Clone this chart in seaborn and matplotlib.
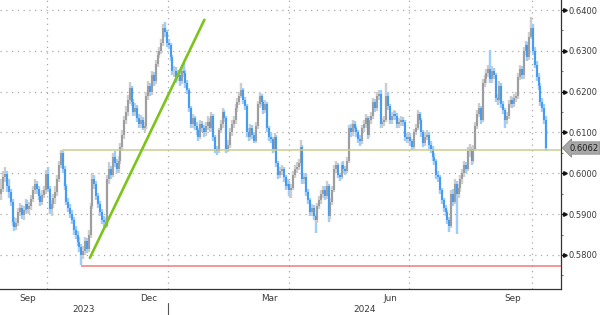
import numpy as np
import pandas as pd
import matplotlib
matplotlib.use("Agg")
import matplotlib.pyplot as plt
import seaborn as sns

# ---------------- data (NZD/USD style daily bars, in 1e-4 units) ----------------
start_date = "2023-08-28"
end_date = "2024-10-10"
first_open = 5950

closes = [
    5962, 5990, 5998, 5968,
    # Sep 2023
    5955, 5930, 5880, 5868, 5878, 5905, 5915, 5898, 5910, 5925, 5912, 5920, 5938, 5958, 5975, 5962, 5945, 5930, 5948, 5958, 5998,
    # Oct 2023
    5962, 5912, 5925, 5940, 5955, 5985, 6020, 6050, 6010, 5968, 5930, 5915, 5900, 5885, 5860, 5850, 5832, 5820, 5800, 5810, 5835, 5815,
    # Nov 2023
    5850, 5920, 5985, 5975, 5945, 5925, 5905, 5885, 5880, 5872, 5985, 6010, 5995, 6040, 6025, 6010, 6030, 6065, 6095, 6130, 6150, 6180,
    # Dec 2023
    6210, 6175, 6150, 6160, 6135, 6120, 6130, 6112, 6115, 6190, 6215, 6200, 6240, 6225, 6268, 6290, 6300, 6320, 6355, 6345, 6320,
    # Jan 2024
    6315, 6285, 6250, 6250, 6235, 6240, 6225, 6250, 6245, 6220, 6205, 6160, 6120, 6135, 6115, 6105, 6090, 6120, 6110, 6100, 6115, 6125, 6110,
    # Feb 2024
    6140, 6090, 6060, 6055, 6105, 6120, 6150, 6135, 6060, 6070, 6100, 6120, 6130, 6160, 6175, 6190, 6205, 6180, 6165, 6100, 6090,
    # Mar 2024
    6110, 6095, 6080, 6115, 6170, 6190, 6175, 6155, 6170, 6110, 6090, 6085, 6060, 6090, 6025, 5995, 6005, 6010, 5990, 5970, 5975,
    # Apr 2024
    5960, 5965, 5995, 6010, 6015, 6025, 6065, 5985, 5990, 5955, 5935, 5905, 5915, 5895, 5885, 5920, 5935, 5950, 5960, 5945, 5970, 5895,
    # May 2024
    5930, 5960, 6010, 6020, 5995, 5990, 6020, 6010, 6005, 6030, 6110, 6100, 6120, 6110, 6100, 6085, 6080, 6110, 6120, 6135, 6095, 6130, 6140,
    # Jun 2024
    6175, 6160, 6190, 6195, 6120, 6125, 6130, 6190, 6165, 6130, 6140, 6145, 6140, 6120, 6125, 6130, 6125, 6090, 6085, 6090,
    # Jul 2024
    6080, 6065, 6100, 6110, 6145, 6130, 6100, 6075, 6090, 6095, 6070, 6060, 6040, 6030, 5995, 5990, 5960, 5935, 5915, 5905, 5885, 5870, 5950,
    # Aug 2024
    5930, 5975, 5950, 5965, 5985, 6000, 6020, 6010, 6055, 6060, 6030, 6060, 6115, 6145, 6160, 6130, 6220, 6230, 6245, 6255, 6230, 6250,
    # Sep 2024
    6240, 6185, 6180, 6215, 6170, 6155, 6130, 6140, 6170, 6180, 6170, 6185, 6190, 6235, 6255, 6240, 6300, 6315, 6285, 6335, 6355,
    # Oct 2024
    6300, 6265, 6235, 6215, 6175, 6160, 6130, 6062,
]

highs = [
    5985, 6005, 6015, 6005,
    5985, 5962, 5938, 5892, 5890, 5915, 5928, 5922, 5920, 5938, 5935, 5930, 5948, 5968, 5985, 5982, 5968, 5952, 5958, 5970, 6008,
    6015, 5970, 5935, 5950, 5970, 5995, 6030, 6058, 6055, 6018, 5975, 5940, 5925, 5910, 5892, 5870, 5858, 5845, 5828, 5822, 5845, 5842,
    5860, 5928, 6000, 5995, 5980, 5952, 5932, 5912, 5895, 5890, 5995, 6028, 6018, 6050, 6055, 6035, 6042, 6075, 6105, 6140, 6165, 6192,
    6224, 6215, 6182, 6172, 6168, 6145, 6142, 6138, 6125, 6200, 6225, 6222, 6250, 6248, 6278, 6300, 6310, 6330, 6365, 6370, 6350,
    6328, 6320, 6290, 6262, 6260, 6252, 6248, 6262, 6270, 6252, 6228, 6210, 6165, 6145, 6140, 6125, 6112, 6130, 6128, 6118, 6125, 6140, 6135,
    6150, 6145, 6095, 6068, 6112, 6130, 6160, 6155, 6140, 6082, 6110, 6130, 6140, 6170, 6185, 6200, 6221, 6210, 6188, 6170, 6110,
    6120, 6118, 6102, 6125, 6178, 6199, 6195, 6180, 6180, 6175, 6115, 6100, 6090, 6098, 6095, 6030, 6015, 6020, 6015, 5995, 5985,
    5982, 5975, 6005, 6020, 6028, 6035, 6082, 6070, 6000, 5998, 5962, 5940, 5925, 5922, 5900, 5928, 5945, 5960, 5970, 5968, 5982, 5975,
    5940, 5970, 6020, 6030, 6025, 6002, 6028, 6030, 6018, 6040, 6118, 6122, 6130, 6128, 6115, 6105, 6095, 6118, 6130, 6145, 6140, 6140, 6150,
    6185, 6182, 6200, 6205, 6205, 6135, 6140, 6222, 6198, 6170, 6150, 6155, 6152, 6148, 6135, 6140, 6138, 6130, 6098, 6100,
    6098, 6085, 6108, 6120, 6155, 6150, 6135, 6105, 6100, 6105, 6100, 6078, 6068, 6050, 6035, 6005, 5995, 5965, 5940, 5922, 5910, 5892, 5958,
    5962, 5985, 5980, 5975, 5995, 6010, 6030, 6028, 6065, 6072, 6065, 6070, 6125, 6155, 6172, 6165, 6230, 6242, 6255, 6265, 6302, 6262,
    6258, 6245, 6195, 6225, 6222, 6178, 6160, 6150, 6180, 6190, 6188, 6195, 6200, 6245, 6265, 6262, 6310, 6325, 6322, 6345, 6383,
    6365, 6310, 6275, 6245, 6222, 6185, 6170, 6140,
]

lows = [
    5935, 5955, 5978, 5955,
    5940, 5920, 5870, 5858, 5860, 5870, 5895, 5888, 5885, 5900, 5902, 5900, 5910, 5930, 5950, 5950, 5935, 5920, 5922, 5940, 5950,
    5955, 5900, 5895, 5915, 5925, 5945, 5978, 6012, 6000, 5960, 5922, 5905, 5890, 5875, 5850, 5838, 5822, 5808, 5775, 5790, 5800, 5805,
    5808, 5842, 5912, 5962, 5935, 5915, 5895, 5875, 5868, 5865, 5868, 5975, 5985, 5990, 6015, 6000, 6002, 6022, 6055, 6085, 6120, 6140,
    6170, 6165, 6140, 6140, 6125, 6110, 6112, 6105, 6100, 6108, 6180, 6190, 6192, 6215, 6218, 6260, 6282, 6292, 6312, 6335, 6310,
    6305, 6275, 6240, 6235, 6222, 6225, 6215, 6218, 6235, 6210, 6195, 6150, 6110, 6110, 6105, 6095, 6080, 6085, 6100, 6090, 6092, 6105, 6100,
    6100, 6080, 6050, 6045, 6050, 6098, 6112, 6125, 6050, 6052, 6062, 6092, 6112, 6122, 6150, 6168, 6185, 6170, 6155, 6090, 6080,
    6082, 6085, 6075, 6075, 6108, 6160, 6165, 6145, 6148, 6100, 6080, 6075, 6050, 6052, 6015, 5985, 5988, 5995, 5978, 5958, 5962,
    5945, 5940, 5958, 5988, 6000, 6008, 6018, 5975, 5975, 5945, 5925, 5895, 5895, 5885, 5855, 5878, 5912, 5925, 5940, 5935, 5938, 5880,
    5888, 5922, 5955, 6000, 5988, 5980, 5985, 6000, 5995, 6000, 6025, 6090, 6092, 6100, 6090, 6075, 6068, 6072, 6102, 6112, 6085, 6088, 6122,
    6132, 6150, 6152, 6180, 6110, 6110, 6115, 6125, 6155, 6120, 6122, 6130, 6130, 6110, 6110, 6115, 6115, 6080, 6075, 6075,
    6068, 6057, 6060, 6095, 6105, 6120, 6090, 6065, 6068, 6082, 6060, 6050, 6030, 6020, 5985, 5978, 5950, 5925, 5905, 5895, 5875, 5856, 5865,
    5920, 5925, 5852, 5940, 5955, 5975, 5992, 6000, 6005, 6040, 6020, 6025, 6055, 6108, 6138, 6120, 6125, 6212, 6222, 6235, 6222, 6220,
    6230, 6175, 6168, 6172, 6160, 6145, 6111, 6120, 6132, 6162, 6160, 6162, 6175, 6182, 6228, 6230, 6232, 6290, 6275, 6278, 6330,
    6290, 6258, 6225, 6205, 6165, 6150, 6120, 6055,
]

last_price_label = "0.6062"
y_tick_labels = ["0.5800", "0.5900", "0.6000", "0.6100", "0.6200", "0.6300", "0.6400"]
month_labels = ["Sep", "Dec", "Mar", "Jun", "Sep"]
month_label_months = ["2023-09", "2023-12", "2024-03", "2024-06", "2024-09"]
year_labels = ["2023", "2024"]

# annotation levels / trend line
olive_level = 0.6057
olive_start = "2023-10-11"
red_level = 0.5774
red_start = "2023-10-26"
trend_x = [47.6, 109.2]          # bar-index positions of trend line ends
trend_y = [0.5793, 0.6376]

# ---------------- prep ----------------
dates = pd.bdate_range(start_date, end_date)
assert len(dates) == len(closes) == len(highs) == len(lows), (len(dates), len(closes), len(highs), len(lows))
c = np.array(closes) / 1e4
o = np.array([first_open] + closes[:-1]) / 1e4
h = np.maximum(np.array(highs) / 1e4, np.maximum(o, c))
l = np.minimum(np.array(lows) / 1e4, np.minimum(o, c))
idx = np.arange(len(c))
up = c >= o

sns.set_style("white")
plt.rcParams["font.family"] = ["DejaVu Sans"]

W, H = 600, 315
fig = plt.figure(figsize=(W / 100, H / 100), dpi=100)
ax_l, ax_r, ax_b, ax_t = 0, 561, 289, 0
ax = fig.add_axes([ax_l / W, 1 - ax_b / H, (ax_r - ax_l) / W, (ax_b - ax_t) / H])

xmin, xmax = -0.77, 301.1
ymin, ymax = 0.57167, 0.64245
ax.set_xlim(xmin, xmax)
ax.set_ylim(ymin, ymax)

blue_body, blue_wick = "#3593f0", "#9fcdfb"
gray_body, gray_wick = "#959595", "#cdcdcd"
wick_cols = np.where(up, gray_wick, blue_wick)
body_cols = np.where(up, gray_body, blue_body)

# gridlines
grid_kw = dict(color="#a8a8a8", lw=0.9, ls=(0, (1, 3.6)), zorder=0)
for v in [0.58, 0.59, 0.60, 0.61, 0.62, 0.63, 0.64]:
    ax.axhline(v, **grid_kw)

month_starts = []
prev = None
for i, d in enumerate(dates):
    key = (d.year, d.month)
    if key != prev:
        if i > 0:
            month_starts.append((i - 0.5, d))
        prev = key
for pos, d in month_starts:
    if d.month in (1, 4, 7, 10):
        ax.axvline(pos, **grid_kw)

# candles
ax.vlines(idx, l, h, colors=wick_cols, lw=1.75, zorder=2)
ax.vlines(idx, np.minimum(o, c), np.maximum(o, c), colors=body_cols, lw=1.2, zorder=3)

# annotation lines
xo = dates.get_loc(pd.Timestamp(olive_start)) + 0.5
xr = dates.get_loc(pd.Timestamp(red_start)) - 0.3
ax.hlines(olive_level, xo, xmax, colors="#c9cd8f", lw=1.1, zorder=4)
ax.hlines(red_level, xr, xmax, colors="#f07a78", lw=1.1, zorder=4)
sns.lineplot(x=trend_x, y=trend_y, ax=ax, color="#7cc41c", lw=1.9, estimator=None, zorder=5)

# spines
for s in ["left", "top"]:
    ax.spines[s].set_visible(False)
for s in ["right", "bottom"]:
    ax.spines[s].set_color("#333333")
    ax.spines[s].set_linewidth(0.9)

# y axis on right
yt = [float(t) for t in y_tick_labels]
ax.yaxis.tick_right()
ax.set_yticks(yt)
ax.set_yticklabels(y_tick_labels)
ax.set_yticks(np.arange(0.575, 0.6425, 0.005), minor=True)
ax.tick_params(axis="y", which="major", direction="out", length=3, width=1.0,
               color="#111111", pad=2.3, labelsize=6.0, labelcolor="#3a3a3a")
ax.tick_params(axis="y", which="minor", direction="out", length=1.5, width=0.8, color="#777777")
ax.plot([1.0 + 3.5 / 561] * len(yt), yt, ls="none", marker=">", ms=2.6, color="#111111",
        transform=ax.get_yaxis_transform(), clip_on=False, zorder=6)

# last price label
ax.text(1.0 + 8 / 561, float(last_price_label), last_price_label, transform=ax.get_yaxis_transform(),
        ha="left", va="center", fontsize=6.0, color="#1e1e1e", zorder=7,
        bbox=dict(boxstyle="larrow,pad=0.2", fc="#a8a8a8", ec="#8a8a8a", lw=0.6))

# x axis: month boundary ticks, labels as text
ax.set_xticks([p for p, _ in month_starts])
ax.set_xticklabels([])
ax.tick_params(axis="x", which="major", direction="out", length=2.5, width=0.9, color="#333333")
xt = ax.get_xaxis_transform()
for lab, m in zip(month_labels, month_label_months):
    mask = dates.strftime("%Y-%m") == m
    ii = np.where(mask)[0]
    center = (ii[0] - 0.5 + ii[-1] + 0.5) / 2
    ax.text(center, -5 / 289, lab, transform=xt, ha="center", va="top", fontsize=6.4, color="#3a3a3a")
jan_pos = [p for p, d in month_starts if d.month == 1][0]
ax.text((xmin + jan_pos) / 2, -16 / 289, year_labels[0], transform=xt, ha="center", va="top",
        fontsize=6.4, color="#3a3a3a")
ax.text((jan_pos + xmax) / 2, -16 / 289, year_labels[1], transform=xt, ha="center", va="top",
        fontsize=6.4, color="#3a3a3a")
ax.plot([jan_pos, jan_pos], [-14 / 289, -27 / 289], transform=xt, color="#555555", lw=0.8, clip_on=False)

ax.set_xlabel("")
ax.set_ylabel("")
fig.savefig("out.png", dpi=100)
